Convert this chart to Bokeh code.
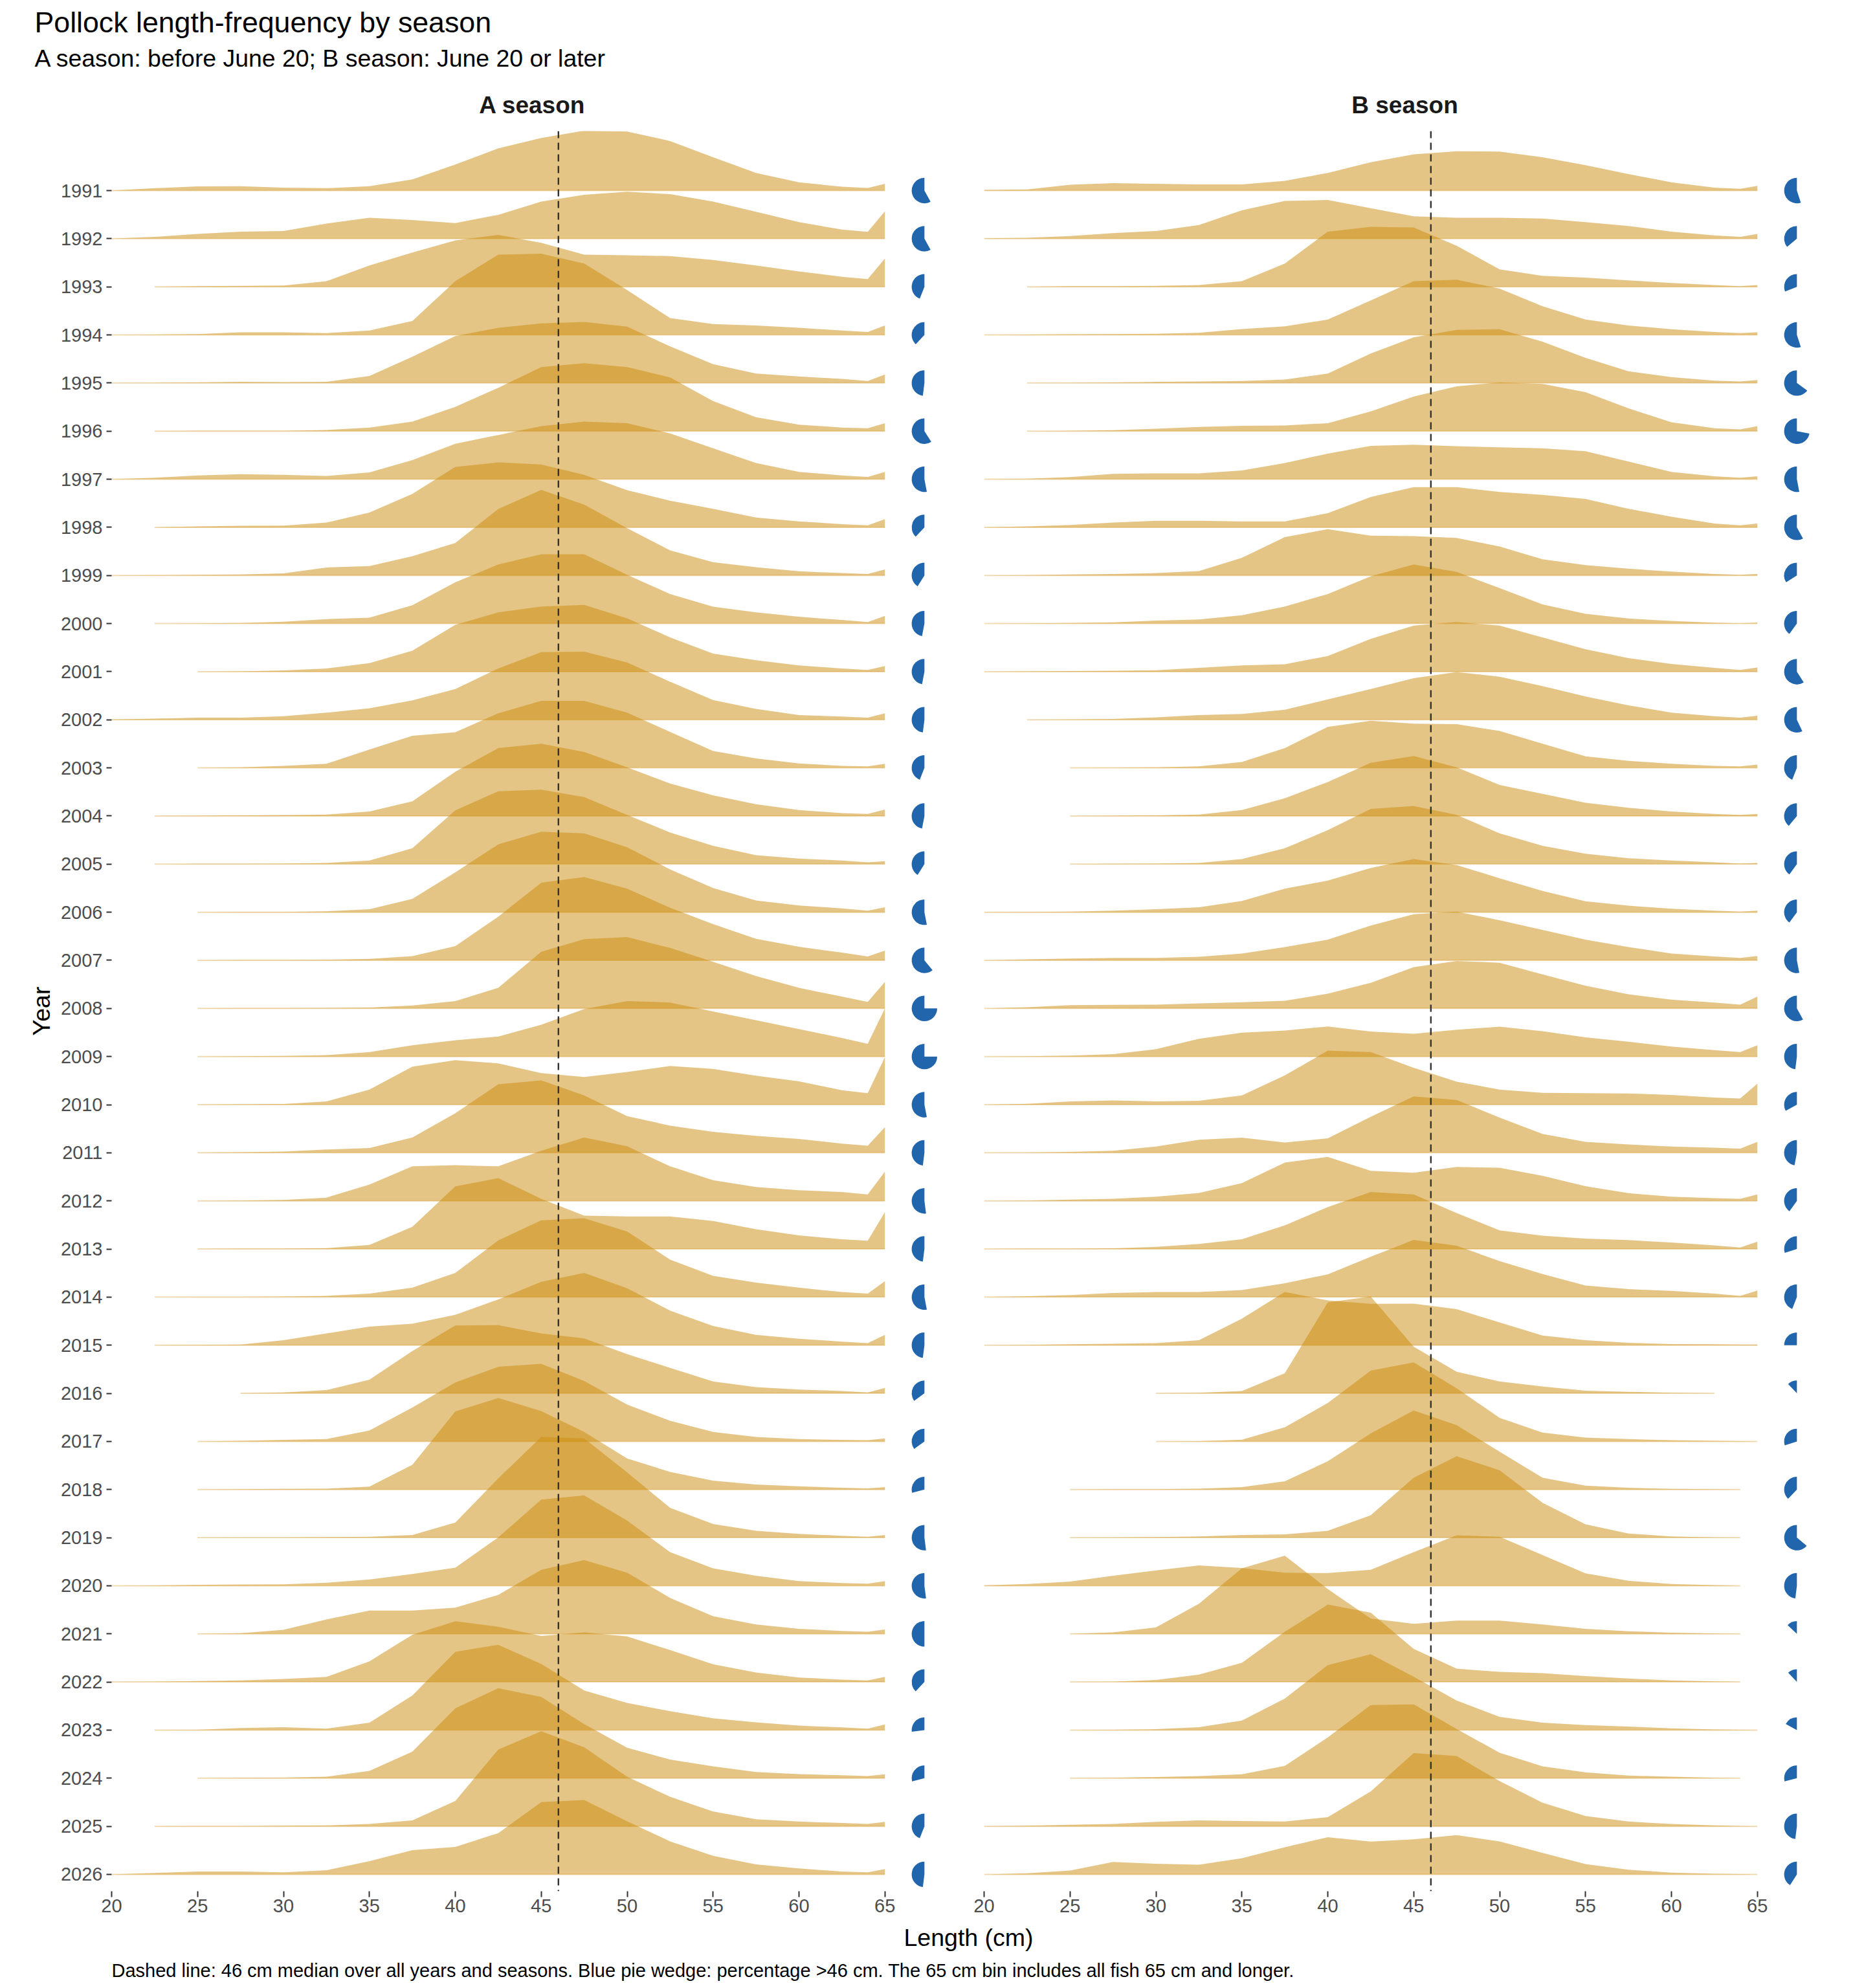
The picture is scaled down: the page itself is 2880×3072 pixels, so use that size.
import math
from bokeh.plotting import figure
from bokeh.layouts import column, row
from bokeh.models import Range1d, FixedTicker, Span
from bokeh.core.properties import value
from bokeh.embed import file_html
from bokeh.resources import INLINE

# ---------------- data ----------------
YEARS = list(range(1991, 2027))
LENGTHS_CM = [20, 22.5, 25, 27.5, 30, 32.5, 35, 37.5, 40, 42.5, 45, 47.5,
              50, 52.5, 55, 57.5, 60, 62.5, 64, 65]
X_TICKS = [20, 25, 30, 35, 40, 45, 50, 55, 60, 65]
MEDIAN_CM = 46
SEASONS = ["A season", "B season"]

# relative frequency (ridge height) per length, one row per year
A_SEASON_FREQ = [
    [0, 8, 14, 15, 10, 8, 15, 38, 88, 143, 178, 203, 200, 168, 113, 60, 28, 13, 9, 23],
    [0, 6, 16, 24, 26, 51, 71, 63, 53, 81, 126, 149, 159, 151, 126, 91, 56, 31, 23, 93],
    [0, 0, 2, 3, 4, 19, 72, 116, 157, 176, 149, 109, 107, 104, 91, 72, 52, 34, 26, 96],
    [0, 1, 3, 9, 9, 6, 15, 47, 182, 272, 275, 242, 152, 57, 37, 32, 24, 15, 10, 32],
    [0, 1, 2, 4, 3, 4, 24, 89, 159, 187, 202, 207, 191, 124, 64, 32, 22, 14, 7, 29],
    [0, 0, 1, 1, 1, 4, 12, 32, 82, 147, 217, 230, 217, 182, 102, 47, 22, 12, 10, 27],
    [0, 5, 13, 17, 15, 11, 23, 65, 120, 150, 180, 195, 190, 155, 105, 55, 25, 13, 8, 25],
    [0, 0, 3, 5, 6, 16, 50, 113, 205, 220, 213, 178, 126, 90, 63, 33, 20, 11, 7, 28],
    [0, 1, 2, 3, 7, 27, 32, 65, 110, 225, 290, 240, 160, 85, 45, 28, 14, 8, 5, 20],
    [0, 0, 1, 2, 6, 15, 20, 62, 140, 200, 235, 235, 165, 100, 57, 38, 23, 12, 5, 26],
    [0, 0, 0, 1, 4, 11, 29, 71, 159, 201, 221, 226, 181, 116, 61, 39, 21, 11, 6, 19],
    [1, 4, 7, 7, 12, 24, 39, 66, 104, 174, 229, 231, 194, 129, 67, 37, 16, 11, 7, 22],
    [0, 0, 0, 2, 7, 14, 62, 109, 121, 185, 227, 227, 187, 122, 57, 32, 15, 7, 5, 14],
    [0, 0, 1, 2, 3, 5, 15, 50, 150, 230, 245, 217, 165, 110, 70, 40, 20, 10, 7, 22],
    [0, 0, 1, 1, 2, 4, 12, 54, 182, 247, 252, 227, 167, 107, 62, 30, 19, 12, 6, 10],
    [0, 0, 0, 1, 1, 3, 10, 45, 135, 230, 273, 267, 220, 145, 82, 40, 23, 13, 5, 17],
    [0, 0, 0, 1, 1, 2, 5, 14, 48, 148, 263, 282, 243, 178, 123, 73, 46, 26, 13, 33],
    [0, 0, 0, 1, 1, 2, 3, 10, 25, 70, 192, 235, 242, 205, 158, 110, 70, 40, 22, 90],
    [0, 0, 0, 1, 2, 5, 15, 38, 55, 68, 108, 161, 188, 183, 153, 123, 93, 63, 43, 163],
    [0, 0, 0, 1, 2, 11, 51, 129, 151, 140, 107, 94, 111, 131, 121, 98, 79, 49, 39, 161],
    [0, 0, 0, 2, 4, 11, 16, 52, 134, 232, 245, 194, 124, 92, 71, 57, 47, 31, 24, 87],
    [0, 0, 0, 1, 3, 11, 55, 117, 121, 117, 170, 215, 185, 117, 70, 47, 36, 30, 22, 99],
    [0, 0, 0, 1, 1, 3, 14, 75, 212, 240, 170, 113, 110, 110, 95, 67, 46, 33, 28, 125],
    [0, 0, 1, 1, 2, 4, 12, 32, 82, 192, 260, 267, 222, 127, 72, 49, 32, 17, 12, 54],
    [0, 0, 1, 2, 17, 40, 63, 73, 103, 155, 215, 245, 193, 117, 65, 35, 22, 12, 7, 35],
    [0, 0, 0, 0, 3, 11, 46, 143, 230, 231, 203, 186, 133, 86, 40, 21, 13, 8, 3, 18],
    [0, 0, 0, 2, 5, 8, 37, 115, 200, 253, 263, 205, 125, 70, 32, 15, 8, 5, 4, 10],
    [0, 0, 0, 1, 2, 3, 10, 84, 265, 310, 266, 195, 105, 60, 30, 17, 11, 6, 4, 8],
    [0, 0, 0, 1, 1, 2, 3, 9, 51, 201, 341, 336, 221, 101, 46, 23, 13, 6, 3, 9],
    [0, 1, 3, 4, 5, 10, 21, 40, 61, 164, 292, 306, 221, 114, 59, 34, 16, 9, 7, 16],
    [0, 0, 0, 2, 14, 49, 79, 79, 89, 132, 217, 250, 207, 122, 60, 32, 17, 10, 7, 15],
    [0, 1, 3, 5, 10, 17, 70, 160, 206, 187, 156, 168, 154, 108, 60, 32, 15, 8, 5, 17],
    [0, 0, 1, 7, 10, 5, 25, 117, 265, 289, 224, 134, 92, 64, 40, 26, 15, 9, 5, 19],
    [0, 0, 0, 1, 2, 5, 25, 90, 237, 305, 275, 183, 103, 63, 40, 21, 14, 10, 7, 13],
    [0, 0, 1, 1, 2, 3, 8, 20, 86, 260, 322, 268, 168, 100, 50, 24, 16, 11, 8, 15],
    [0, 5, 10, 10, 7, 14, 45, 82, 93, 140, 245, 252, 180, 112, 63, 34, 20, 10, 7, 18],
]

B_SEASON_FREQ = [
    [2, 4, 20, 25, 23, 21, 21, 33, 60, 96, 123, 133, 132, 113, 86, 56, 28, 10, 6, 16],
    [1, 3, 9, 19, 26, 46, 96, 128, 131, 103, 76, 71, 71, 68, 56, 43, 24, 11, 6, 16],
    [0, 0, 2, 2, 3, 6, 19, 79, 187, 203, 201, 139, 59, 37, 31, 22, 13, 6, 2, 6],
    [0, 1, 2, 3, 4, 7, 20, 29, 52, 117, 182, 187, 157, 97, 52, 32, 19, 10, 6, 9],
    [0, 0, 1, 2, 4, 5, 7, 12, 32, 100, 155, 180, 182, 140, 85, 40, 20, 8, 5, 10],
    [0, 0, 1, 3, 8, 14, 18, 19, 27, 67, 117, 152, 165, 160, 132, 77, 30, 10, 6, 17],
    [0, 2, 7, 18, 20, 20, 30, 55, 87, 113, 117, 112, 108, 105, 95, 60, 25, 10, 5, 10],
    [0, 3, 8, 16, 22, 22, 20, 20, 48, 103, 136, 136, 120, 110, 96, 63, 36, 13, 7, 13],
    [0, 1, 3, 5, 8, 15, 60, 130, 157, 135, 133, 127, 98, 55, 35, 23, 13, 5, 2, 5],
    [0, 1, 2, 4, 10, 14, 28, 58, 100, 160, 200, 175, 120, 65, 33, 17, 9, 3, 1, 3],
    [0, 1, 2, 3, 5, 13, 21, 25, 53, 111, 156, 168, 156, 116, 76, 46, 26, 13, 6, 14],
    [0, 0, 1, 3, 8, 16, 20, 34, 69, 104, 141, 162, 146, 114, 79, 49, 24, 12, 7, 14],
    [0, 0, 0, 1, 2, 5, 20, 67, 139, 160, 150, 148, 125, 82, 39, 24, 14, 7, 5, 11],
    [0, 0, 0, 1, 2, 5, 20, 60, 115, 180, 203, 165, 105, 75, 45, 28, 15, 7, 4, 7],
    [0, 0, 0, 1, 2, 4, 17, 54, 115, 187, 197, 167, 104, 62, 35, 20, 12, 6, 2, 4],
    [0, 1, 2, 5, 10, 17, 38, 80, 107, 150, 180, 160, 115, 72, 37, 22, 12, 5, 2, 5],
    [0, 3, 6, 8, 8, 12, 23, 45, 70, 118, 156, 165, 136, 103, 70, 45, 23, 13, 8, 15],
    [0, 4, 11, 12, 13, 17, 21, 26, 50, 87, 140, 161, 155, 115, 77, 48, 30, 20, 13, 40],
    [0, 1, 3, 8, 25, 60, 81, 88, 102, 85, 77, 91, 101, 86, 65, 50, 34, 22, 15, 38],
    [0, 3, 11, 14, 11, 13, 31, 99, 183, 178, 125, 78, 51, 40, 39, 38, 33, 24, 21, 71],
    [0, 1, 3, 7, 21, 44, 51, 35, 49, 122, 191, 179, 119, 64, 37, 28, 21, 17, 14, 37],
    [0, 1, 4, 7, 14, 27, 60, 130, 149, 102, 95, 115, 112, 85, 50, 26, 14, 9, 7, 22],
    [0, 1, 1, 2, 7, 17, 33, 80, 142, 193, 185, 122, 63, 45, 35, 30, 22, 12, 5, 25],
    [0, 3, 7, 14, 17, 17, 24, 47, 77, 137, 194, 174, 122, 78, 39, 27, 21, 12, 4, 22],
    [0, 1, 3, 5, 7, 17, 90, 180, 152, 140, 141, 122, 77, 33, 17, 8, 4, 3, 2, 2],
    [0, 0, 0, 0, 0, 2, 8, 68, 308, 328, 158, 73, 40, 23, 9, 5, 2, 0, 0, 0],
    [0, 0, 0, 0, 0, 1, 6, 48, 130, 240, 268, 180, 80, 30, 13, 8, 4, 2, 1, 0],
    [0, 0, 0, 1, 1, 3, 8, 28, 96, 190, 268, 218, 128, 40, 13, 6, 2, 1, 0, 0],
    [0, 0, 0, 1, 2, 4, 9, 11, 23, 76, 203, 276, 228, 118, 45, 14, 4, 1, 0, 0],
    [1, 6, 14, 34, 52, 69, 60, 44, 43, 54, 114, 171, 166, 104, 42, 17, 6, 2, 0, 0],
    [0, 0, 0, 5, 22, 102, 222, 265, 152, 52, 34, 45, 45, 32, 17, 9, 4, 1, 0, 0],
    [0, 0, 0, 1, 7, 25, 65, 170, 262, 235, 112, 45, 34, 30, 20, 12, 5, 2, 0, 0],
    [0, 0, 0, 1, 3, 10, 32, 107, 220, 257, 181, 100, 45, 25, 17, 12, 6, 2, 1, 0],
    [0, 0, 0, 1, 4, 7, 13, 42, 138, 248, 250, 167, 86, 40, 20, 9, 5, 1, 0, 0],
    [0, 2, 5, 8, 15, 20, 18, 16, 31, 118, 248, 238, 153, 80, 35, 16, 8, 3, 1, 0],
    [0, 4, 13, 42, 36, 33, 55, 92, 126, 111, 119, 133, 112, 73, 35, 16, 6, 2, 1, 0],
]

# percentage of fish longer than 46 cm (blue pie wedge)
A_PCT_OVER_46 = [58, 58, 44, 38, 48, 59, 53, 38, 41, 47, 47, 48, 44, 47, 41, 53, 61, 75,
                 75, 53, 48, 52, 48, 53, 48, 35, 35, 29, 52, 52, 50, 38, 27, 29, 44, 48]
B_PCT_OVER_46 = [55, 36, 31, 55, 65, 72, 53, 58, 34, 40, 59, 57, 44, 39, 40, 40, 53, 58,
                 48, 33, 47, 40, 30, 44, 25, 12, 30, 38, 64, 48, 13, 12, 17, 29, 48, 41]

TITLE = "Pollock length-frequency by season"
SUBTITLE = "A season: before June 20; B season: June 20 or later"
X_TITLE = "Length (cm)"
Y_TITLE = "Year"
CAPTION = ("Dashed line: 46 cm median over all years and seasons. Blue pie wedge: "
           "percentage >46 cm. The 65 cm bin includes all fish 65 cm and longer.")

# ---------------- style / layout ----------------
FONT = "Liberation Sans"
FILL = "#CC8C0C"
PIE_COLOR = "#2166AC"
RIDGE_SCALE = 1.0 / 163.0      # ridge height units per row spacing
PIE_X = 67.3
PIE_RADIUS_PX = 19.7
PX_PER_CM = 26.55
FRAME_W = 1300
FRAME_H = 2720
A_LEFT = 172
GAP = 48
B_RIGHT = 60
PAGE_W = A_LEFT + FRAME_W + GAP + FRAME_W + B_RIGHT
HEAD_H = 202
BOTTOM_H = 52
FOOT_H = 90
TICK_FONT = "29px"


def make_panel(freqs, pcts, border_left, border_right, with_year_axis):
    n = len(YEARS)
    p = figure(frame_width=FRAME_W, frame_height=FRAME_H,
               x_range=Range1d(20, 20 + FRAME_W / PX_PER_CM),
               y_range=Range1d(-0.35, n - 1 + 1.2376),
               output_backend="svg", toolbar_location=None,
               min_border_left=border_left, min_border_right=border_right,
               min_border_top=0, min_border_bottom=BOTTOM_H,
               outline_line_color=None, background_fill_color="white",
               border_fill_color="white")
    p.grid.visible = False

    xs, ys, bx0, bx1, by = [], [], [], [], []
    for i, f in enumerate(freqs):
        base = n - 1 - i
        nz = [k for k, v in enumerate(f) if v > 0]
        k0 = max(nz[0] - 1, 0)
        k1 = min(nz[-1] + 1, len(f) - 1)
        L = LENGTHS_CM[k0:k1 + 1]
        H = f[k0:k1 + 1]
        xs.append(list(L) + [L[-1], L[0]])
        ys.append([base + h * RIDGE_SCALE for h in H] + [base, base])
        bx0.append(L[0])
        bx1.append(L[-1])
        by.append(base)

    p.segment(x0=bx0, y0=by, x1=bx1, y1=by, line_color=FILL, line_alpha=0.3, line_width=2)
    p.patches(xs=xs, ys=ys, fill_color=FILL, fill_alpha=0.5, line_color=None)

    bases = [n - 1 - i for i in range(n)]
    p.wedge(x=[PIE_X] * n, y=bases, radius=PIE_RADIUS_PX, radius_units="screen",
            start_angle=[math.pi / 2] * n,
            end_angle=[math.pi / 2 + 2 * math.pi * v / 100.0 for v in pcts],
            direction="anticlock", fill_color=PIE_COLOR, line_color=None)

    p.add_layout(Span(location=MEDIAN_CM, dimension="height", line_color="#333333",
                      line_width=2.4, line_dash="11 7"))

    xa = p.xaxis[0]
    xa.ticker = FixedTicker(ticks=X_TICKS)
    xa.axis_line_color = None
    xa.major_tick_line_color = "#333333"
    xa.major_tick_line_width = 2
    xa.major_tick_out = 9
    xa.major_tick_in = 0
    xa.minor_tick_line_color = None
    xa.major_label_text_font = FONT
    xa.major_label_text_font_size = TICK_FONT
    xa.major_label_text_color = "#4D4D4D"
    xa.major_label_standoff = 3

    ya = p.yaxis[0]
    if with_year_axis:
        ya.ticker = FixedTicker(ticks=bases)
        ya.major_label_overrides = {n - 1 - i: str(y) for i, y in enumerate(YEARS)}
        ya.axis_line_color = None
        ya.major_tick_line_color = "#333333"
        ya.major_tick_line_width = 2
        ya.major_tick_out = 8
        ya.major_tick_in = 0
        ya.minor_tick_line_color = None
        ya.major_label_text_font = FONT
        ya.major_label_text_font_size = TICK_FONT
        ya.major_label_text_color = "#4D4D4D"
        ya.major_label_standoff = 6
        ya.axis_label = Y_TITLE
        ya.axis_label_text_font = FONT
        ya.axis_label_text_font_size = "37.5px"
        ya.axis_label_text_font_style = "normal"
        ya.axis_label_text_color = "black"
        ya.axis_label_standoff = 6
    else:
        ya.visible = False
    return p


def text_canvas(h):
    c = figure(width=PAGE_W, height=h, x_range=Range1d(0, PAGE_W), y_range=Range1d(h, 0),
               x_axis_location=None, y_axis_location=None, min_border=0,
               outline_line_color=None, toolbar_location=None, output_backend="svg",
               background_fill_color="white", border_fill_color="white")
    c.grid.visible = False
    return c


head = text_canvas(HEAD_H)
head.text(x=[53], y=[34], text=[TITLE], text_font=value(FONT), text_font_size="44.7px",
          text_color="black", text_align="left", text_baseline="alphabetic")
head.text(x=[53], y=[89], text=[SUBTITLE], text_font=value(FONT), text_font_size="37.4px",
          text_color="black", text_align="left", text_baseline="alphabetic")
strip_centers = [A_LEFT + FRAME_W / 2, A_LEFT + FRAME_W + GAP + FRAME_W / 2]
head.text(x=strip_centers, y=[162, 162], text=SEASONS, text_font=value(FONT),
          text_font_size="37px", text_font_style="bold", text_color="#1A1A1A",
          text_align="center", text_baseline="alphabetic")

panel_a = make_panel(A_SEASON_FREQ, A_PCT_OVER_46, A_LEFT, 0, True)
panel_b = make_panel(B_SEASON_FREQ, B_PCT_OVER_46, GAP, B_RIGHT, False)

foot = text_canvas(FOOT_H)
foot.text(x=[(A_LEFT + A_LEFT + 2 * FRAME_W + GAP) / 2], y=[19], text=[X_TITLE],
          text_font=value(FONT), text_font_size="37.5px", text_color="black",
          text_align="center", text_baseline="alphabetic")
foot.text(x=[A_LEFT], y=[70], text=[CAPTION], text_font=value(FONT), text_font_size="29px",
          text_color="black", text_align="left", text_baseline="alphabetic")

layout = column(head, row(panel_a, panel_b, spacing=0), foot, spacing=0)

with open("out.html", "w") as fh:
    fh.write(file_html(layout, INLINE, title="Pollock length-frequency by season"))
